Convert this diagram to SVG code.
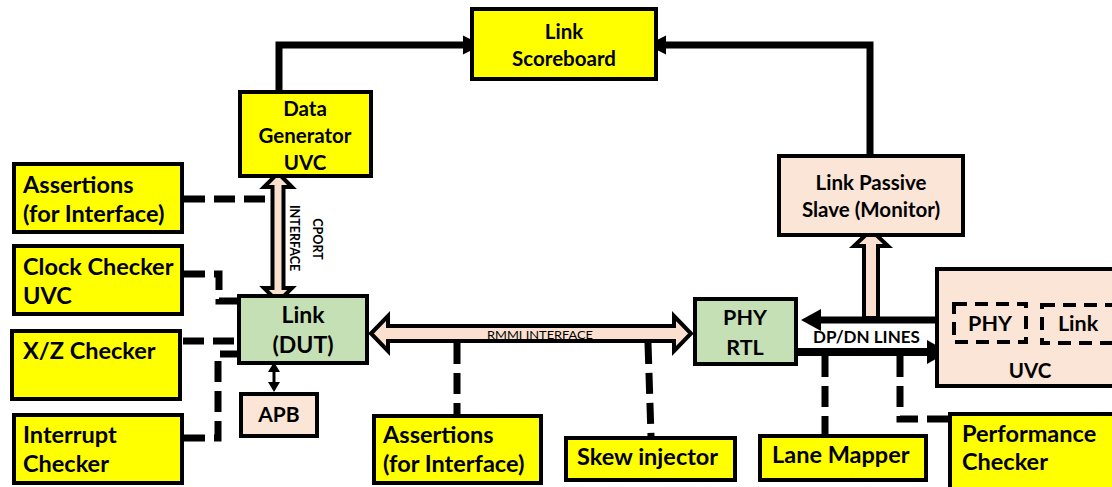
<svg xmlns="http://www.w3.org/2000/svg" width="1112" height="487" viewBox="0 0 1112 487">
  <style>
    .box { stroke: #000; stroke-width: 4; }
    .yel { fill: #FFFF00; }
    .grn { fill: #C5E0B4; }
    .pnk { fill: #FBE5D6; }
    .dbox { fill: none; stroke: #000; stroke-width: 4; stroke-dasharray: 13 8; }
    .t { font-family: Lato, "Liberation Sans", sans-serif; font-weight: bold; fill: #000; }
    .c { text-anchor: middle; }
    .big { font-size: 23.5px; }
    .mid { font-size: 20.5px; }
    .solid { fill: none; stroke: #000; stroke-width: 7; }
    .dash { fill: none; stroke: #000; stroke-width: 7; stroke-dasharray: 21 9; }
    .hollow { fill: #FBE0D0; stroke: #000; stroke-width: 4; stroke-linejoin: miter; }
  </style>

  <!-- connectors -->
  <g id="connectors">
    <!-- generator / monitor to scoreboard -->
    <path class="solid" d="M279,91 V45 H466"/>
    <polygon points="482,45 463,35.5 463,54.5"/>
    <path class="solid" d="M870,155 V45 H664"/>
    <polygon points="647,45 666,35.5 666,54.5"/>

    <!-- CPORT interface -->
    <polygon class="hollow" points="278,173 292,187 283.5,187 283.5,288 292,288 278,302 264,288 272.5,288 272.5,187 264,187"/>
    <text class="t" font-size="12.5" text-anchor="middle" transform="translate(313,239) rotate(90)">CPORT</text>
    <text class="t" font-size="12.5" text-anchor="middle" transform="translate(290,238) rotate(90)">INTERFACE</text>

    <!-- RMMI interface -->
    <polygon class="hollow" points="371,333.5 388,316 388,326 674,326 674,316 691,333.5 674,351 674,341 388,341 388,351"/>
    <text x="540" y="338.5" font-family="Lato, 'Liberation Sans', sans-serif" font-size="11" text-anchor="middle" textLength="106" lengthAdjust="spacingAndGlyphs">RMMI INTERFACE</text>

    <!-- Link <-> APB -->
    <line x1="274" y1="370" x2="274" y2="385" stroke="#000" stroke-width="3"/>
    <polygon points="274,362 280,372 268,372"/>
    <polygon points="274,392 280,382 268,382"/>

    <!-- monitor tap -->
    <polygon class="hollow" points="871,230 888,246 878,246 878,318 864,318 864,246 854,246"/>

    <!-- DP/DN lines -->
    <line x1="935" y1="320" x2="815" y2="320" stroke="#000" stroke-width="7"/>
    <polygon points="801,320 821,309 821,331"/>
    <line x1="798" y1="352" x2="932" y2="352" stroke="#000" stroke-width="8"/>
    <polygon points="948,352 927,340 927,364"/>
    <text class="t" x="813" y="343" font-size="17">DP/DN LINES</text>

    <!-- checker taps -->
    <path class="dash" d="M184,199 H274"/>
    <path class="dash" d="M184,274 H219 V301 H237"/>
    <path class="dash" d="M183,341 H237"/>
    <path class="dash" d="M184,438 H218 V354 H237"/>
    <path class="dash" d="M457,343 V414"/>
    <path class="dash" d="M648,343 L651,436"/>
    <path class="dash" d="M825,356 V434"/>
    <path class="dash" d="M900,356 V419 H948"/>
  </g>

  <g id="link-scoreboard">
    <rect class="box yel" x="472" y="9" width="184" height="70"/>
    <text class="t mid c" x="564" y="39">Link</text>
    <text class="t mid c" x="564" y="66">Scoreboard</text>
  </g>

  <g id="data-generator">
    <rect class="box yel" x="240" y="92" width="131" height="84"/>
    <text class="t mid c" x="305" y="116">Data</text>
    <text class="t mid c" x="305" y="143">Generator</text>
    <text class="t mid c" x="305" y="170">UVC</text>
  </g>

  <g id="assertions-left">
    <rect class="box yel" x="14" y="164" width="168" height="68"/>
    <text class="t big" x="23" y="193">Assertions</text>
    <text class="t big" x="23" y="222">(for Interface)</text>
  </g>

  <g id="clock-checker">
    <rect class="box yel" x="14" y="246" width="168" height="68"/>
    <text class="t big" x="23" y="275">Clock Checker</text>
    <text class="t big" x="23" y="304">UVC</text>
  </g>

  <g id="xz-checker">
    <rect class="box yel" x="12" y="331" width="168" height="68"/>
    <text class="t big" x="23" y="359">X/Z Checker</text>
  </g>

  <g id="interrupt-checker">
    <rect class="box yel" x="14" y="415" width="168" height="68"/>
    <text class="t big" x="23" y="443">Interrupt</text>
    <text class="t big" x="23" y="472">Checker</text>
  </g>

  <g id="link-dut">
    <rect class="box grn" x="239" y="296" width="128" height="67"/>
    <text class="t c" font-size="23" x="303" y="323">Link</text>
    <text class="t c" font-size="23" x="303" y="353">(DUT)</text>
  </g>

  <g id="apb">
    <rect class="box pnk" x="241" y="394" width="76" height="42"/>
    <text class="t c" font-size="21" x="279" y="422">APB</text>
  </g>

  <g id="phy-rtl">
    <rect class="box grn" x="695" y="299" width="101" height="65"/>
    <text class="t c" font-size="21.5" x="745" y="325">PHY</text>
    <text class="t c" font-size="21.5" x="745" y="355">RTL</text>
  </g>

  <g id="link-passive-slave">
    <rect class="box pnk" x="779" y="156" width="184" height="79"/>
    <text class="t mid c" x="871" y="190">Link Passive</text>
    <text class="t mid c" x="871" y="217">Slave (Monitor)</text>
  </g>

  <g id="uvc">
    <rect class="box pnk" x="937" y="269" width="190" height="117"/>
    <rect class="dbox" x="954" y="304" width="72" height="38"/>
    <rect class="dbox" x="1042" y="305" width="90" height="38"/>
    <text class="t c" font-size="21.5" x="990" y="331">PHY</text>
    <text class="t c" font-size="21.5" x="1078" y="331">Link</text>
    <text class="t mid c" x="1030" y="378">UVC</text>
  </g>

  <g id="assertions-bottom">
    <rect class="box yel" x="374" y="416" width="167" height="67"/>
    <text class="t big" x="383" y="443">Assertions</text>
    <text class="t big" x="383" y="472">(for Interface)</text>
  </g>

  <g id="skew-injector">
    <rect class="box yel" x="566" y="438" width="169" height="42"/>
    <text class="t big" x="577" y="465">Skew injector</text>
  </g>

  <g id="lane-mapper">
    <rect class="box yel" x="760" y="436" width="166" height="44"/>
    <text class="t big" x="772" y="463">Lane Mapper</text>
  </g>

  <g id="performance-checker">
    <rect class="box yel" x="950" y="414" width="180" height="80"/>
    <text class="t big" x="962" y="442">Performance</text>
    <text class="t big" x="962" y="470">Checker</text>
  </g>
</svg>
